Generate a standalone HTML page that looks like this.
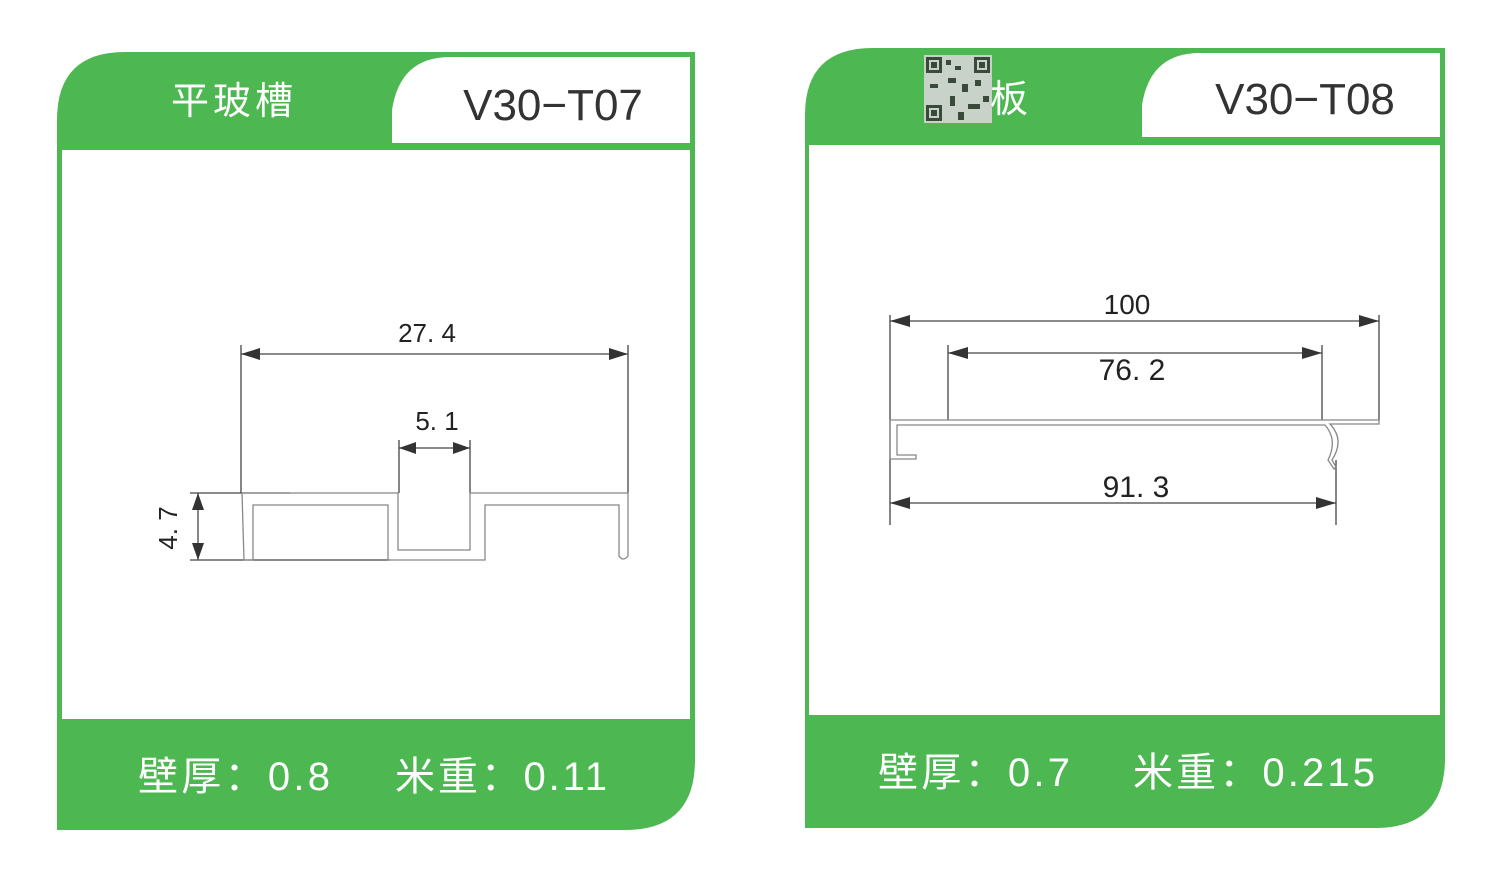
<!DOCTYPE html>
<html><head><meta charset="utf-8"><style>
html,body{margin:0;padding:0;background:#fff;width:1500px;height:888px;overflow:hidden}
svg{display:block}
</style></head><body>
<svg width="1500" height="888" viewBox="0 0 1500 888" xmlns="http://www.w3.org/2000/svg" font-family="Liberation Sans, Noto Sans CJK SC, sans-serif">
<!-- LEFT CARD -->
<path d="M57,120 Q57,52 125,52 L695,52 L695,760 Q695,830 625,830 L57,830 Z" fill="#4db752"/>
<rect x="62" y="150" width="628" height="569" fill="#fff"/>
<path d="M392,143 L392,110 Q400,57 450,57 L690,57 L690,143 Z" fill="#fff"/>
<text x="234" y="114" font-size="38" fill="#fff" text-anchor="middle" letter-spacing="4">平玻槽</text>
<text x="553" y="120" font-size="44" fill="#333" text-anchor="middle">V30−T07</text>
<text x="138" y="790" font-size="40" fill="#fff" textLength="192" lengthAdjust="spacing">壁厚：0.8</text>
<text x="395" y="790" font-size="40" fill="#fff" textLength="212" lengthAdjust="spacing">米重：0.11</text>
<g stroke="#444" stroke-width="1.3" fill="none">
<line x1="241" y1="345" x2="241" y2="493"/>
<line x1="628" y1="345" x2="628" y2="493"/>
<line x1="241" y1="354" x2="628" y2="354"/>
<line x1="399" y1="440" x2="399" y2="493"/>
<line x1="470" y1="440" x2="470" y2="493"/>
<line x1="399" y1="448" x2="470" y2="448"/>
<line x1="190" y1="493" x2="290" y2="493"/>
<line x1="190" y1="560" x2="390" y2="560"/>
<line x1="198" y1="493" x2="198" y2="560"/>
</g>
<g fill="#333">
<polygon points="241,354 260,348 260,360"/><polygon points="628,354 609,348 609,360"/>
<polygon points="399,448 416,442 416,454"/><polygon points="470,448 453,442 453,454"/>
<polygon points="198,493 192,510 204,510"/><polygon points="198,560 192,543 204,543"/>
</g>
<g stroke="#888" stroke-width="1.3" fill="none">
<path d="M242,493 L398,493 L398,550 L470,550 L470,493 L628,493 L628,556 Q623,562 619,556 L619,505 L485,505 L485,560 L388,560 L388,505 L253,505 L253,560 L244,560 Z"/>
</g>
<text x="427" y="342" font-size="26" fill="#222" text-anchor="middle">27. 4</text>
<text x="437" y="430" font-size="26" fill="#222" text-anchor="middle">5. 1</text>
<text transform="translate(177,528) rotate(-90)" font-size="26" fill="#222" text-anchor="middle">4. 7</text>

<!-- RIGHT CARD -->
<path d="M805,115 Q805,48 873,48 L1445,48 L1445,758 Q1445,828 1375,828 L805,828 Z" fill="#4db752"/>
<rect x="809" y="145" width="631" height="570" fill="#fff"/>
<path d="M1142,137 L1142,105 Q1150,53 1200,53 L1440,53 L1440,137 Z" fill="#fff"/>
<rect x="924" y="55" width="68" height="68" fill="#c8d2c8"/>
<g fill="#3a4a3a">
<rect x="926" y="57" width="16" height="16"/><rect x="974" y="57" width="16" height="16"/><rect x="926" y="105" width="16" height="16"/>
<rect x="946" y="60" width="5" height="5"/><rect x="955" y="66" width="6" height="4"/><rect x="948" y="78" width="8" height="5"/><rect x="962" y="84" width="6" height="8"/><rect x="930" y="84" width="8" height="4"/><rect x="975" y="80" width="6" height="6"/><rect x="950" y="96" width="5" height="10"/><rect x="968" y="104" width="12" height="5"/><rect x="983" y="96" width="6" height="6"/><rect x="958" y="112" width="6" height="8"/>
</g>
<g fill="#c8d2c8"><rect x="929" y="60" width="10" height="10"/><rect x="977" y="60" width="10" height="10"/><rect x="929" y="108" width="10" height="10"/></g>
<g fill="#3a4a3a"><rect x="931" y="62" width="6" height="6"/><rect x="979" y="62" width="6" height="6"/><rect x="931" y="110" width="6" height="6"/></g>
<text x="990" y="112" font-size="38" fill="#fff">板</text>
<text x="1305" y="114" font-size="44" fill="#333" text-anchor="middle">V30−T08</text>
<text x="878" y="786" font-size="40" fill="#fff" textLength="192" lengthAdjust="spacing">壁厚：0.7</text>
<text x="1133" y="786" font-size="40" fill="#fff" textLength="242" lengthAdjust="spacing">米重：0.215</text>
<g stroke="#444" stroke-width="1.3" fill="none">
<line x1="890" y1="315" x2="890" y2="525"/>
<line x1="1379" y1="315" x2="1379" y2="420"/>
<line x1="890" y1="321" x2="1379" y2="321"/>
<line x1="948" y1="345" x2="948" y2="420"/>
<line x1="1322" y1="345" x2="1322" y2="420"/>
<line x1="948" y1="353" x2="1322" y2="353"/>
<line x1="1336" y1="460" x2="1336" y2="525"/>
<line x1="890" y1="503" x2="1336" y2="503"/>
</g>
<g fill="#333">
<polygon points="890,321 910,315 910,327"/><polygon points="1379,321 1359,315 1359,327"/>
<polygon points="948,353 968,347 968,359"/><polygon points="1322,353 1302,347 1302,359"/>
<polygon points="890,503 910,497 910,509"/><polygon points="1336,503 1316,497 1316,509"/>
</g>
<g stroke="#888" stroke-width="1.3" fill="none">
<path d="M890,420 L1379,420 L1379,424 L1330,424 Q1345,440 1332,460 L1336,467 L1334,469 L1328,460 Q1338,440 1325,425 L897,425 L897,455 L916,455 L916,459 L890,459 Z"/>
</g>
<text x="1127" y="314" font-size="28" fill="#222" text-anchor="middle">100</text>
<text x="1132" y="380" font-size="30" fill="#222" text-anchor="middle">76. 2</text>
<text x="1136" y="497" font-size="30" fill="#222" text-anchor="middle">91. 3</text>
</svg>
</body></html>
